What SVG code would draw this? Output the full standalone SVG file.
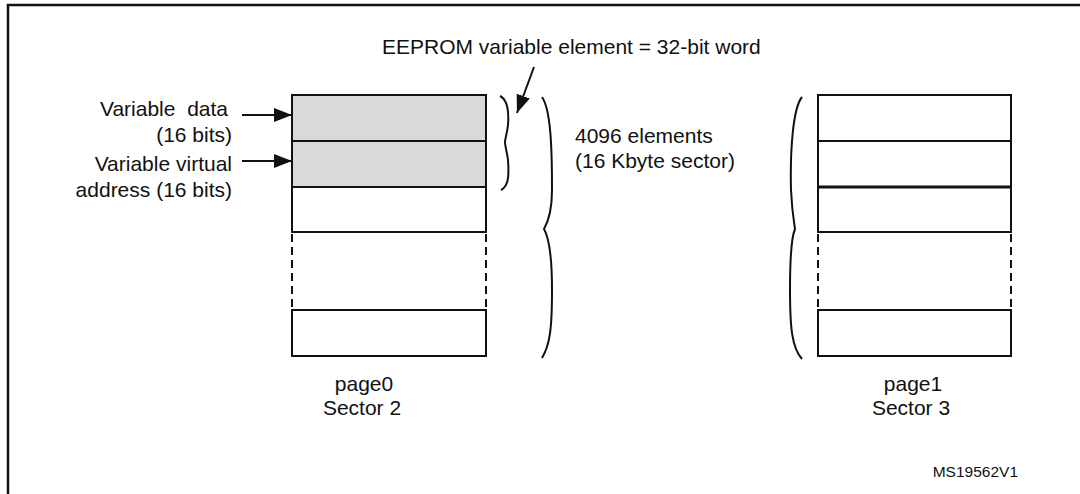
<svg xmlns="http://www.w3.org/2000/svg" width="1080" height="494" viewBox="0 0 1080 494">
<style>
text{font-family:"Liberation Sans",Arial,sans-serif;font-size:21px;fill:#111}
.cell{stroke:#111;stroke-width:2;fill:#fff}
.gray{fill:#d9d9d9}
.dash{stroke:#111;stroke-width:2;stroke-dasharray:8 5;fill:none}
.brace{stroke:#111;stroke-width:2;fill:none}
.conn{stroke:#111;stroke-width:2;fill:none;marker-end:url(#ah)}
</style>
<defs>
<marker id="ah" markerUnits="userSpaceOnUse" markerWidth="19" markerHeight="14" refX="18" refY="7" orient="auto">
<path d="M0,0 L18,7 L0,14 z" fill="#111"/>
</marker>
</defs>
<rect width="1080" height="494" fill="#fff"/>
<path d="M8,494 V5 H1080" stroke="#111" stroke-width="2.5" fill="none"/>

<g id="page0">
<rect class="cell gray" x="292" y="95" width="194" height="46"/>
<rect class="cell gray" x="292" y="141" width="194" height="46"/>
<rect class="cell" x="292" y="187" width="194" height="45"/>
<line class="dash" x1="292" y1="234" x2="292" y2="310"/>
<line class="dash" x1="486" y1="234" x2="486" y2="310"/>
<rect class="cell" x="292" y="310" width="194" height="46"/>
<text x="364" y="391" text-anchor="middle">page0</text>
<text x="362" y="415" text-anchor="middle">Sector 2</text>
</g>

<g id="page1">
<rect class="cell" x="818" y="95" width="193" height="46"/>
<rect class="cell" x="818" y="141" width="193" height="46"/>
<rect class="cell" x="818" y="187" width="193" height="45"/>
<line x1="818" y1="187" x2="1011" y2="187" stroke="#111" stroke-width="3"/>
<line class="dash" x1="818" y1="234" x2="818" y2="310"/>
<line class="dash" x1="1011" y1="234" x2="1011" y2="310"/>
<rect class="cell" x="818" y="310" width="193" height="46"/>
<text x="913" y="391" text-anchor="middle">page1</text>
<text x="911" y="415" text-anchor="middle">Sector 3</text>
</g>

<g id="braces">
<path class="brace" d="M500,96 C508,100 509,112 508,125 C507,134 505,139 505,142 C505,146 507,152 508,160 C509,175 509,186 501,190"/>
<path class="brace" d="M542,97 C551,110 552,150 552,190 C552,212 548,222 544,229 C548,236 552,255 552,290 C552,328 550,345 542,358"/>
<path class="brace" d="M802,97 C793,108 790,150 791,190 C792,212 794,222 795,229 C792,236 790,255 790,290 C790,328 792,348 802,359"/>
</g>

<g id="labels">
<text x="228" y="116" text-anchor="end">Variable&#160; data</text>
<text x="232" y="142" text-anchor="end">(16 bits)</text>
<text x="232" y="171" text-anchor="end">Variable virtual</text>
<text x="232" y="197" text-anchor="end">address (16 bits)</text>
<text x="382" y="54">EEPROM variable element = 32-bit word</text>
<text x="575" y="143">4096 elements</text>
<text x="575" y="168">(16 Kbyte sector)</text>
<text x="1018" y="477" text-anchor="end" style="font-size:15.5px">MS19562V1</text>
</g>

<g id="connectors">
<line class="conn" x1="242" y1="115" x2="292" y2="115"/>
<line class="conn" x1="242" y1="161" x2="292" y2="161"/>
<line class="conn" x1="534" y1="67" x2="517" y2="113"/>
</g>
</svg>
